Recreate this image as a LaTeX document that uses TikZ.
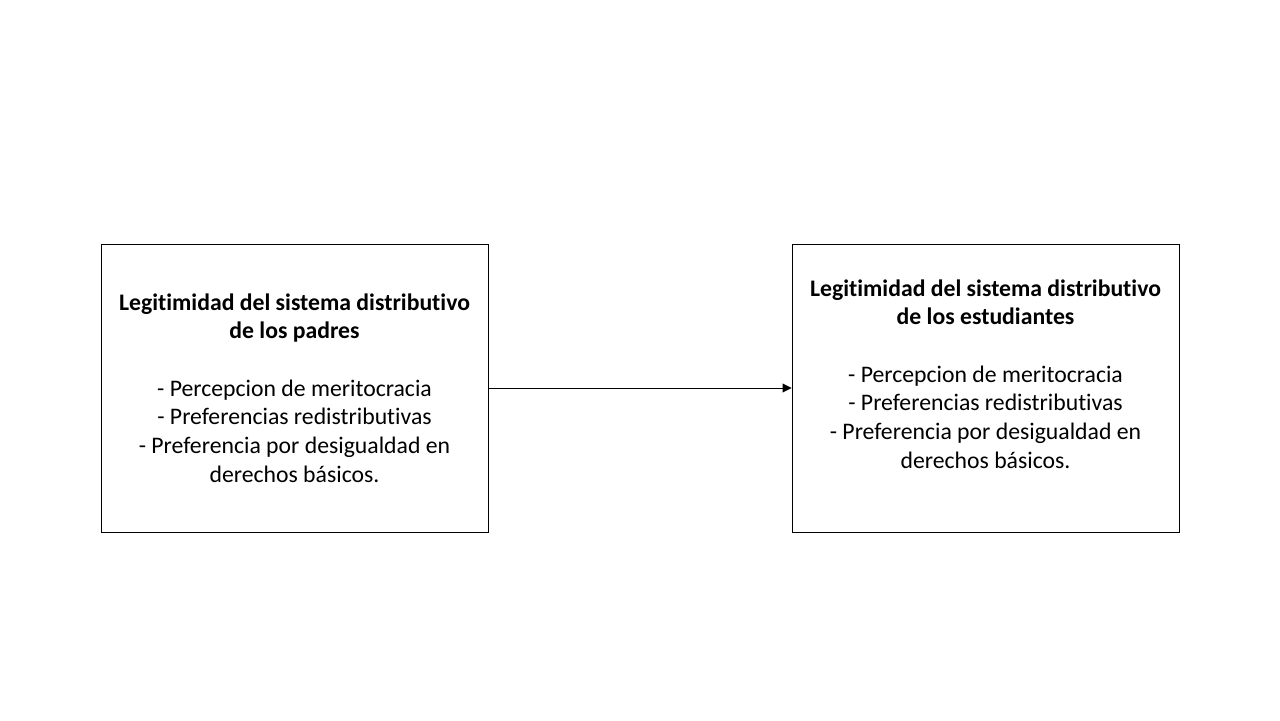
\documentclass[tikz,border=0pt]{standalone}
\usepackage{fontspec}
\setmainfont{Carlito}[Ligatures=NoCommon]
\usetikzlibrary{positioning,arrows.meta}
\tikzstyle{caja}=[draw, line width=0.55pt, minimum width=7.74cm, minimum height=5.76cm, inner sep=0pt]
\tikzstyle{texto}=[align=center, font=\fontsize{13.5}{16.3}\selectfont]
\tikzstyle{flecha}=[-{Triangle[length=5pt,width=5pt]}, line width=0.5pt]

\begin{document}
\begin{tikzpicture}
    \useasboundingbox (0,0) rectangle (25.6,14.4);

    % cajas
    \node[caja] (padres) at (5.89,6.64) {};
    \node[caja] (estudiantes) at (19.71,6.64) {};

    % textos
    \node[texto] (tpadres) at (padres.center) {\textbf{Legitimidad del sistema distributivo}\\\textbf{de los padres}\\[16.3pt]- Percepcion de meritocracia\\- Preferencias redistributivas\\- Preferencia por desigualdad en\\derechos básicos.};
    \node[texto, yshift=0.28cm] (testudiantes) at (estudiantes.center) {\textbf{Legitimidad del sistema distributivo}\\\textbf{de los estudiantes}\\[16.3pt]- Percepcion de meritocracia\\- Preferencias redistributivas\\- Preferencia por desigualdad en\\derechos básicos.};

    % flecha
    \draw[flecha] (padres.east) -- (estudiantes.west);
\end{tikzpicture}
\end{document}
